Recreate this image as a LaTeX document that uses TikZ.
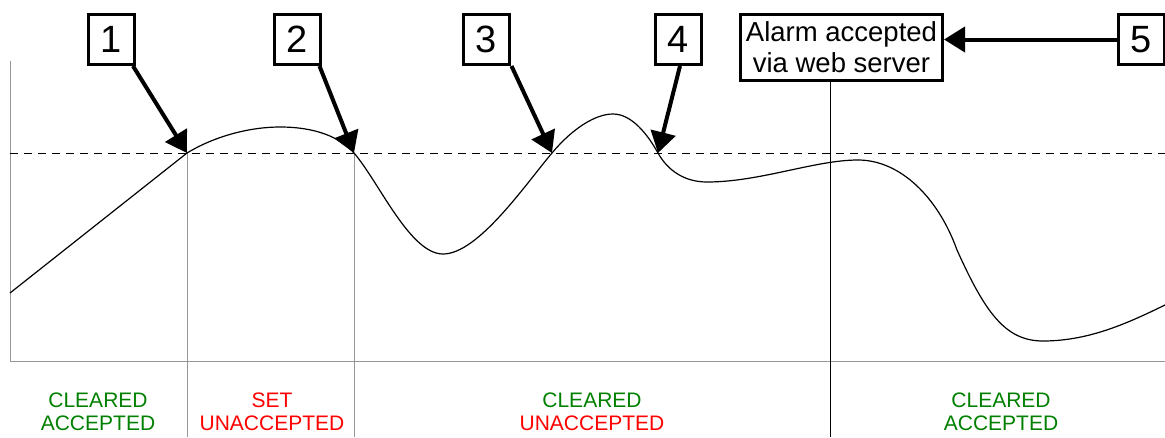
\documentclass[tikz,border=0pt]{standalone}
\usepackage{fontspec}
\setmainfont{Liberation Sans}
\usetikzlibrary{arrows.meta,calc}
\definecolor{lblgreen}{RGB}{0,128,0}
\definecolor{lblred}{RGB}{255,0,0}
\definecolor{axisgray}{RGB}{150,150,150}
\begin{document}
\begin{tikzpicture}[x=1pt,y=-1pt,
 numbox/.style={draw,line width=3pt,minimum width=46pt,minimum height=50pt,inner sep=0pt,font=\fontsize{38}{40}\selectfont},
 callout/.style={line width=4pt,-{Triangle[length=21pt,width=25pt]}},
 grayline/.style={draw=axisgray,line width=1pt},
 lbl/.style={anchor=base,inner sep=0pt,font=\fontsize{21}{23}\selectfont},
 curve/.style={line width=1.2pt}
]
\useasboundingbox (0,0) rectangle (1165,437);
% axes
\coordinate (axtop) at (10,61);
\coordinate (axorig) at (10,361);
\coordinate (axend) at (1165,361);
\draw[grayline] (axtop) -- (axorig) -- (axend);
% threshold
\coordinate (thl) at (10,153);
\coordinate (thr) at (1165,153);
\draw[line width=1pt,dash pattern=on 8pt off 6pt] (thl) -- (thr);
% crossing points
\coordinate (p1) at (187,153);
\coordinate (p2) at (354,153);
\coordinate (p3) at (552,153);
\coordinate (p4) at (658,153);
\coordinate (bot1) at (187,437);
\coordinate (bot2) at (354,437);
\draw[grayline] (p1) -- (bot1);
\draw[grayline] (p2) -- (bot2);
% signal curve
\coordinate (c0) at (10,293);
\draw[curve] (c0) -- (p1)
  .. controls (215,136) and (250,127) .. (280,127)
  .. controls (315,127) and (340,137) .. (p2)
  .. controls (379,182) and (410,254) .. (443,254)
  .. controls (478,254) and (525,185) .. (p3)
  .. controls (572,129) and (595,114) .. (613,114)
  .. controls (632,114) and (648,135) .. (p4)
  .. controls (668,171) and (685,182) .. (707,182)
  .. controls (760,182) and (815,160) .. (858,160)
  .. controls (900,160) and (938,197) .. (957,250)
  .. controls (985,312) and (1005,341) .. (1043,341)
  .. controls (1090,341) and (1130,322) .. (1165,305);
% number boxes
\node[numbox] (b1) at (111.5,39.5) {1};
\node[numbox] (b2) at (297,39.5) {2};
\node[numbox] (b3) at (486,39.5) {3};
\node[numbox] (b4) at (678.5,39.5) {4};
\node[numbox] (b5) at (1141,39.5) {5};
\node[draw,line width=3pt,minimum width=202pt,minimum height=66pt,inner sep=0pt,
      align=center,font=\fontsize{27.5}{31}\selectfont] (alarm) at (841.5,47.5)
      {Alarm accepted\\via web server};
% web server line
\coordinate (wsx) at (830,437);
\draw[line width=1pt] (wsx |- alarm.south) -- (wsx);
% callouts
\draw[callout] ([xshift=-3pt]b1.south east) -- (p1);
\draw[callout] ([xshift=-2pt]b2.south east) -- (p2);
\draw[callout] ([xshift=1pt]b3.south east) -- (p3);
\draw[callout] ([xshift=1.5pt]b4.south) -- (p4);
\draw[callout] (b5.west) -- (b5.west -| alarm.east);
% state labels
\node[lbl,text=lblgreen] (l1a) at (98,407) {CLEARED};
\node[lbl,text=lblgreen] (l1b) at (98,430) {ACCEPTED};
\node[lbl,text=lblred] (l2a) at (272,407) {SET};
\node[lbl,text=lblred] (l2b) at (272,430) {UNACCEPTED};
\node[lbl,text=lblgreen] (l3a) at (592,407) {CLEARED};
\node[lbl,text=lblred] (l3b) at (592,430) {UNACCEPTED};
\node[lbl,text=lblgreen] (l4a) at (1001,407) {CLEARED};
\node[lbl,text=lblgreen] (l4b) at (1001,430) {ACCEPTED};
\end{tikzpicture}
\end{document}
